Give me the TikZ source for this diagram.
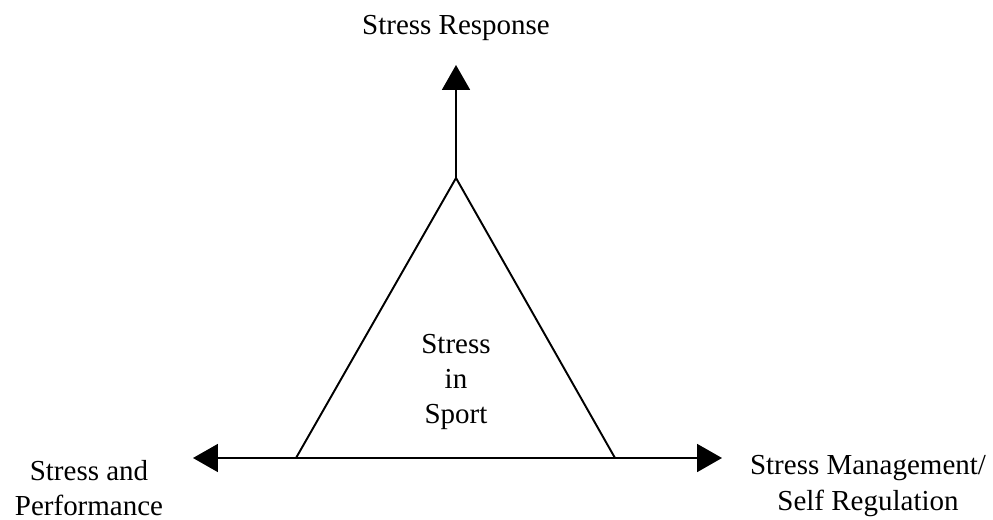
\documentclass[tikz,border=0pt]{standalone}
\usepackage{fontspec}
\setmainfont{Liberation Serif}
\usepackage{tikz}
\usetikzlibrary{arrows.meta, positioning}
\tikzset{
    label/.style={align=center, inner sep=0pt, font=\fontsize{16.5}{20}\selectfont},
    edge/.style={line width=1.1pt},
    arrow/.style={line width=1.1pt, -{Triangle[length=0.5cm, width=0.56cm]}},
    twoway/.style={line width=1.1pt, {Triangle[length=0.5cm, width=0.56cm]}-{Triangle[length=0.5cm, width=0.56cm]}}
}

\begin{document}
\begin{tikzpicture}[x=0.02cm, y=-0.02cm]
    \useasboundingbox (0,0) rectangle (993,520);

    % Triangle corners
    \coordinate (apex) at (456,178);
    \coordinate (left) at (296,458);
    \coordinate (right) at (615,458);

    % Arrow ends
    \coordinate (top) at (456,65);
    \coordinate (west) at (193,458);
    \coordinate (east) at (722,458);

    % Labels
    \node[label] (response) at (456,28) {Stress Response};
    \node[label] (sport) at (456,382) {Stress\\in\\Sport};
    \node[label] (performance) at (89,488) {Stress and\\Performance};
    \node[label] (management) at (868,486) {Stress Management/\\Self Regulation};

    % Triangle
    \draw[edge] (left) -- (apex) -- (right);

    % Arrows
    \draw[arrow] (apex) -- (top);
    \draw[twoway] (west) -- (east);
\end{tikzpicture}
\end{document}
